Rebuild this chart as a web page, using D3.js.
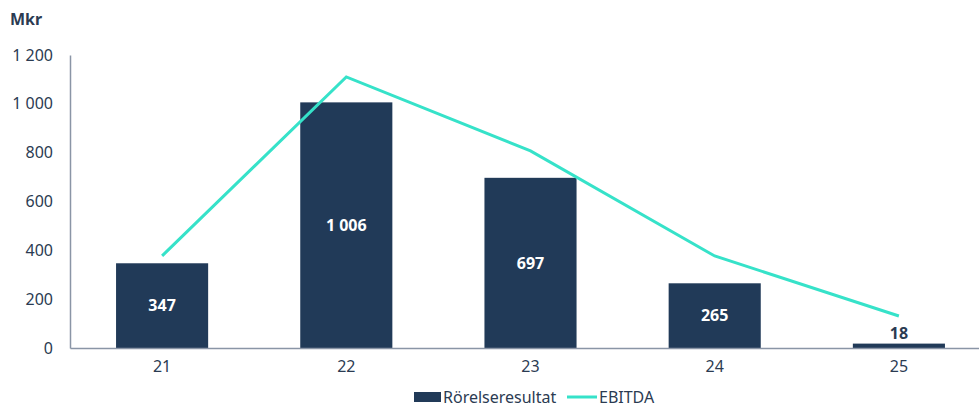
<!DOCTYPE html>
<html><head><meta charset="utf-8">
<script src="https://cdn.jsdelivr.net/npm/d3@7"></script>
<style>body{margin:0;background:#fff}svg{display:block;font-family:"Noto Sans",sans-serif}</style>
</head><body><svg id="c" width="979" height="410"></svg>
<script>
const categories = ["21","22","23","24","25"];
const rorelseresultat = [347, 1006, 697, 265, 18];
const ebitda = [377, 1110, 807, 377, 131];
const yTicks = [0, 200, 400, 600, 800, 1000, 1200];
const fmt = v => d3.format(",")(v).replace(/,/g, " ");

const svg = d3.select("#c");
const barColor = "#213a58", lineColor = "#36e2c9", textColor = "#2b3b52";
const FONT = "'Noto Sans',sans-serif";
const x = d3.scaleBand().domain(categories).range([70, 991]).paddingInner(0.5).paddingOuter(0.25);
const y = d3.scaleLinear().domain([0, 1200]).range([348, 55]);

svg.append("text").attr("x", 10).attr("y", 25).attr("font-weight", 700).attr("font-size", 16).attr("fill", textColor).text("Mkr");

// y axis
const ya = svg.append("g").attr("transform", "translate(70,0)")
  .call(d3.axisLeft(y).tickValues(yTicks).tickSize(0).tickPadding(17).tickFormat(fmt));
ya.select(".domain").attr("stroke", "#8a95a6").attr("stroke-width", 1.5);
ya.selectAll("text").attr("font-size", 16).attr("fill", textColor).attr("font-family", FONT);

// bars
svg.append("g").selectAll("rect").data(categories).join("rect")
  .attr("x", d => x(d)).attr("width", x.bandwidth())
  .attr("y", (d, i) => y(rorelseresultat[i])).attr("height", (d, i) => y(0) - y(rorelseresultat[i]))
  .attr("fill", barColor);

// x axis
const xa = svg.append("g").attr("transform", "translate(0,348)")
  .call(d3.axisBottom(x).tickSize(0).tickPadding(13));
xa.select(".domain").attr("stroke", "#8a95a6").attr("stroke-width", 1.5);
xa.selectAll("text").attr("font-size", 16).attr("fill", textColor).attr("font-family", FONT);

// line
const line = d3.line().x((d, i) => x(categories[i]) + x.bandwidth() / 2).y(d => y(d));
svg.append("path").datum(ebitda).attr("d", line).attr("fill", "none").attr("stroke", lineColor).attr("stroke-width", 3);

// bar labels
svg.append("g").selectAll("text").data(categories).join("text")
  .attr("x", d => x(d) + x.bandwidth() / 2)
  .attr("y", (d, i) => {
    const v = rorelseresultat[i];
    return v < 100 ? y(v) - 10 : (y(v) + y(0)) / 2;
  })
  .attr("dy", "0.35em").attr("text-anchor", "middle")
  .attr("font-size", 16).attr("font-weight", 700)
  .attr("fill", (d, i) => rorelseresultat[i] < 100 ? textColor : "#fff")
  .text((d, i) => fmt(rorelseresultat[i]));

// legend
const lg = svg.append("g").attr("font-size", 16).attr("fill", textColor);
lg.append("rect").attr("x", 414).attr("y", 392).attr("width", 27).attr("height", 10).attr("fill", barColor);
lg.append("text").attr("x", 443).attr("y", 397).attr("dy", "0.35em").text("Rörelseresultat").attr("fill", textColor);
lg.append("line").attr("x1", 567).attr("x2", 597).attr("y1", 397).attr("y2", 397).attr("stroke", lineColor).attr("stroke-width", 3);
lg.append("text").attr("x", 599).attr("y", 397).attr("dy", "0.35em").text("EBITDA").attr("fill", textColor);
</script></body></html>
